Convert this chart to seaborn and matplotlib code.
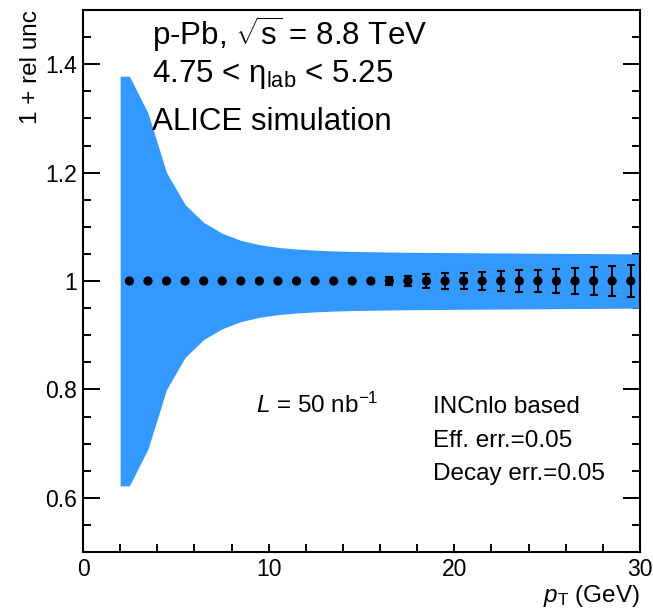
import numpy as np
import pandas as pd
import matplotlib
matplotlib.use("Agg")
import matplotlib.pyplot as plt
import seaborn as sns
from matplotlib.ticker import MultipleLocator, FixedLocator

# ---------------- data ----------------
pt = [2.5, 3.5, 4.5, 5.5, 6.5, 7.5, 8.5, 9.5, 10.5, 11.5, 12.5, 13.5, 14.5,
      15.5, 16.5, 17.5, 18.5, 19.5, 20.5, 21.5, 22.5, 23.5, 24.5, 25.5,
      26.5, 27.5, 28.5, 29.5]
value = [1.0] * 28
stat_err = [0.0005, 0.0006, 0.0007, 0.0008, 0.0009, 0.0010, 0.0012, 0.0014,
            0.0016, 0.0019, 0.0022, 0.0026, 0.0030, 0.0045, 0.0070, 0.0099,
            0.0123, 0.0139, 0.0147, 0.0164, 0.0176, 0.0194, 0.0207, 0.0225,
            0.0238, 0.0256, 0.0269, 0.0287]
band_unc = [0.378, 0.310, 0.200, 0.141, 0.108, 0.088, 0.075, 0.067, 0.062,
            0.059, 0.057, 0.0555, 0.0545, 0.054, 0.0535, 0.053, 0.0528,
            0.0525, 0.0522, 0.052, 0.0518, 0.0515, 0.0513, 0.051, 0.0508,
            0.0506, 0.0504, 0.0502]
bin_lo = 2.0
bin_hi = 30.0
y_ticks = [0.6, 0.8, 1.0, 1.2, 1.4]
y_ticklabels = ["0.6", "0.8", "1", "1.2", "1.4"]
x_ticks = [0, 10, 20, 30]
x_ticklabels = ["0", "10", "20", "30"]

df = pd.DataFrame({"pt": pt, "value": value, "err": stat_err, "unc": band_unc})
band_x = [bin_lo] + pt + [bin_hi]
band_u = np.array([band_unc[0]] + band_unc + [band_unc[-1]])

# ---------------- style ----------------
sns.set_theme(style="ticks")
plt.rcParams["font.family"] = ["Liberation Sans", "DejaVu Sans"]
plt.rcParams["mathtext.fontset"] = "custom"
plt.rcParams["mathtext.rm"] = "Liberation Sans"
plt.rcParams["mathtext.it"] = "Liberation Sans:italic"
plt.rcParams["mathtext.bf"] = "Liberation Sans:bold"
for k in ["text.color", "axes.labelcolor", "xtick.color", "ytick.color", "axes.edgecolor"]:
    plt.rcParams[k] = "black"

fig = plt.figure(figsize=(6.53, 6.12), dpi=100)
ax = fig.add_axes([83 / 653, 60 / 612, 557 / 653, 542 / 612])

band_col = "#3399ff"
ax.fill_between(band_x, 1 - band_u, 1 + band_u, color=band_col, lw=0, zorder=1)

ax.errorbar(df["pt"], df["value"], yerr=df["err"], fmt="none", ecolor="black",
            elinewidth=1.5, capsize=2.6, capthick=1.5, zorder=3)
sns.scatterplot(data=df, x="pt", y="value", color="black", s=44,
                edgecolor="none", zorder=4, ax=ax, legend=False)

ax.set_xlim(0, 30)
ax.set_ylim(0.5, 1.5)
ax.yaxis.set_major_locator(FixedLocator(y_ticks))
ax.set_yticklabels(y_ticklabels)
ax.yaxis.set_minor_locator(MultipleLocator(0.05))
ax.xaxis.set_major_locator(FixedLocator(x_ticks))
ax.set_xticklabels(x_ticklabels)
ax.xaxis.set_minor_locator(MultipleLocator(2))

ax.tick_params(axis="y", which="major", direction="in", length=12, width=1.4,
               left=True, right=True, labelsize=16.5, pad=4)
ax.tick_params(axis="y", which="minor", direction="in", length=6, width=1.4,
               left=True, right=True)
ax.tick_params(axis="x", which="both", direction="in", length=6, width=1.4,
               bottom=True, top=False, labelsize=16.5, pad=4)
for s in ax.spines.values():
    s.set_linewidth(1.5)
    s.set_color("black")
ax.grid(False)

ax.set_ylabel("1 + rel unc", fontsize=17.5, loc="top")
ax.yaxis.set_label_coords(-0.074, 1.0)
ax.set_xlabel(r"$p_{\mathrm{T}}$ (GeV)", fontsize=17.5, loc="right", labelpad=2)

tx = 0.124
ax.text(tx, 0.9354, r"p-Pb, $\sqrt{\mathrm{s}}$ = 8.8 TeV", transform=ax.transAxes,
        fontsize=22.5, va="baseline", ha="left")
ax.text(tx, 0.867, r"4.75 < η$_{\mathrm{lab}}$ < 5.25", transform=ax.transAxes,
        fontsize=22.5, va="baseline", ha="left")
ax.text(tx, 0.779, "ALICE simulation", transform=ax.transAxes,
        fontsize=22.5, va="baseline", ha="left")

ax.text(0.311, 0.2565, r"$L$ = 50 nb$^{\mathrm{-1}}$", transform=ax.transAxes,
        fontsize=17.5, va="baseline", ha="left")
for yy, t in zip([0.2565, 0.194, 0.133],
                 ["INCnlo based", "Eff. err.=0.05", "Decay err.=0.05"]):
    ax.text(0.628, yy, t, transform=ax.transAxes, fontsize=17.5,
            va="baseline", ha="left")

fig.savefig("out.png", dpi=100)
